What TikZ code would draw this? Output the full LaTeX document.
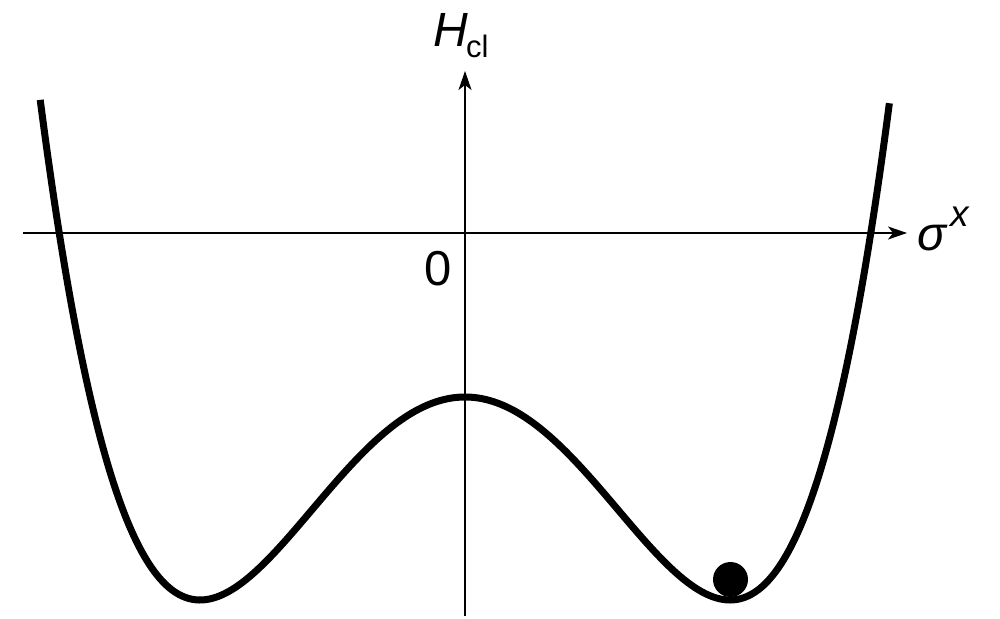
\documentclass[tikz,border=0pt]{standalone}
\usepackage{fontspec}
\setmainfont{Liberation Sans}
\usetikzlibrary{arrows.meta}
\begin{document}
\begin{tikzpicture}[x=1pt,y=-1pt,
  axis/.style={line width=1.8pt,-{Stealth[length=19pt,width=13pt,inset=5pt]}},
  well/.style={line width=7pt,line cap=butt,line join=round},
  lbl/.style={inner sep=0pt,anchor=base west}]
\useasboundingbox (0,0) rectangle (1000,618);
\coordinate (xs) at (23,233);
\coordinate (xe) at (907,233);
\coordinate (ys) at (465,616);
\coordinate (ye) at (465,71);
\draw[axis] (xs) -- (xe);
\draw[axis] (ys) -- (ye);
\draw[well] plot[domain=-1.603:1.603,samples=241,smooth] ({465+265*\x},{600-203*(\x*\x-1)*(\x*\x-1)});
\fill (730.5,579.5) circle (17.5);
\node[lbl] (H) at (433,47) {\fontsize{48}{48}\selectfont\itshape H};
\node[lbl] (cl) at (466,57) {\fontsize{31}{31}\selectfont cl};
\node[lbl] (sig) at (917,250) {\fontsize{48}{48}\selectfont\itshape σ};
\node[lbl] (sx) at (950,226) {\fontsize{37}{37}\selectfont\itshape x};
\node[lbl] (zero) at (424,285) {\fontsize{49}{49}\selectfont 0};
\end{tikzpicture}
\end{document}
